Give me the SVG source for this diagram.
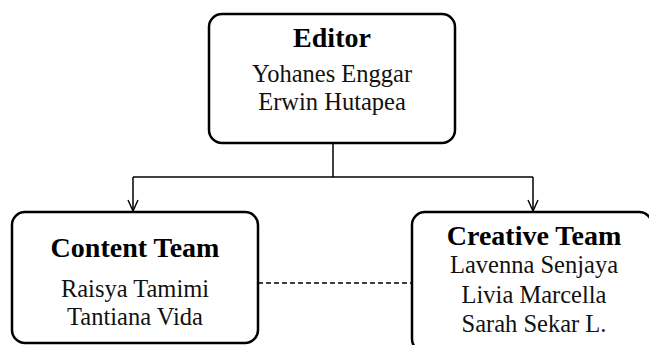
<svg xmlns="http://www.w3.org/2000/svg" width="649" height="345" viewBox="0 0 649 345">
<style>
.box{fill:#fff;stroke:#000;stroke-width:2.5}
.t{font-family:"Liberation Serif","Times New Roman",serif;font-weight:bold;font-size:28px;text-anchor:middle;fill:#000}
.n{font-family:"Liberation Serif","Times New Roman",serif;font-size:24.5px;text-anchor:middle;fill:#111}
.c{fill:none;stroke:#000;stroke-width:1.5}
</style>
<defs>
<marker id="arr" viewBox="0 0 12 12" refX="6" refY="12" markerWidth="12" markerHeight="12" markerUnits="userSpaceOnUse" orient="auto-start-reverse">
<path d="M1,2 L6,12 L11,2" fill="none" stroke="#000" stroke-width="1.3"/>
</marker>
</defs>
<rect width="649" height="345" fill="#fff"/>
<g id="connectors">
<line class="c" x1="333" y1="143" x2="333" y2="177"/>
<line class="c" x1="133" y1="177" x2="533" y2="177"/>
<path class="c" d="M133,177 L133,211"/>
<path class="c" d="M533,177 L533,211"/>
<path d="M128,200 L133,211 L138,200" fill="none" stroke="#000" stroke-width="1.4"/>
<path d="M528,200 L533,211 L538,200" fill="none" stroke="#000" stroke-width="1.4"/>
<line class="c" x1="258" y1="283" x2="412" y2="283" stroke-dasharray="5,3"/>
</g>
<g id="editor">
<rect class="box" x="209" y="14" width="246" height="129" rx="13"/>
<text class="t" x="332" y="47">Editor</text>
<text class="n" x="332" y="82">Yohanes Enggar</text>
<text class="n" x="332" y="110">Erwin Hutapea</text>
</g>
<g id="content-team">
<rect class="box" x="12" y="212" width="246" height="131" rx="13"/>
<text class="t" x="135" y="257">Content Team</text>
<text class="n" x="135" y="297">Raisya Tamimi</text>
<text class="n" x="135" y="325">Tantiana Vida</text>
</g>
<g id="creative-team">
<rect class="box" x="412" y="212" width="240" height="140" rx="13"/>
<text class="t" x="534" y="245">Creative Team</text>
<text class="n" x="534" y="273">Lavenna Senjaya</text>
<text class="n" x="534" y="303">Livia Marcella</text>
<text class="n" x="534" y="332">Sarah Sekar L.</text>
</g>
</svg>
